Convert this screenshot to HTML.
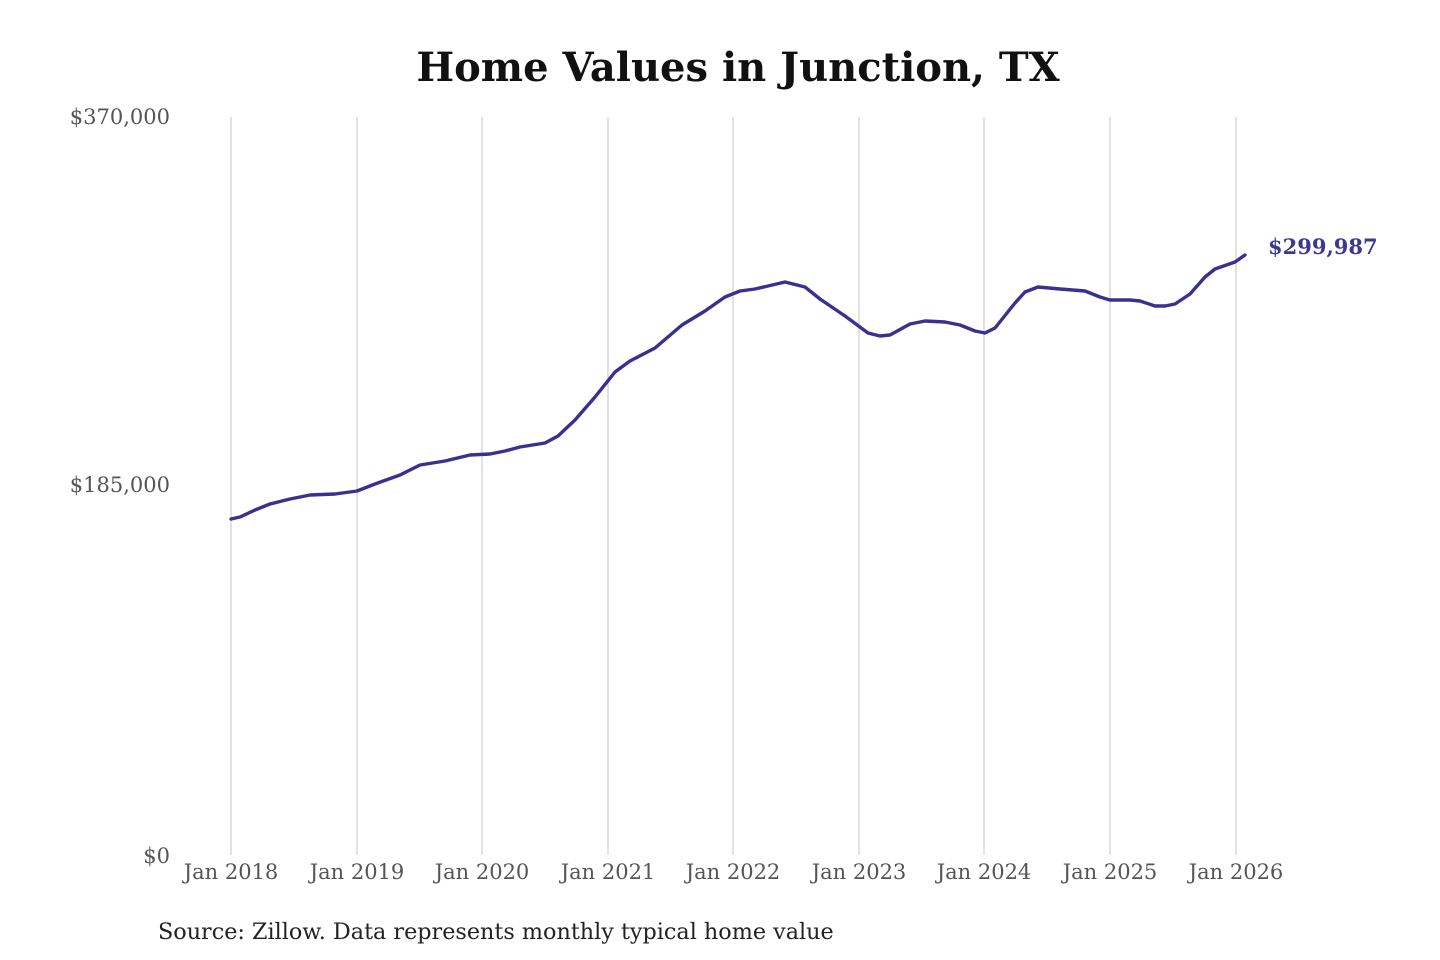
<!DOCTYPE html>
<html><head><meta charset="utf-8"><style>
html,body{margin:0;padding:0;background:#fff;width:1440px;height:960px;overflow:hidden}
</style></head><body>
<svg width="1440" height="960" viewBox="0 0 1440 960" xmlns="http://www.w3.org/2000/svg">
<text x="738" y="81" text-anchor="middle" font-family="DejaVu Serif, Liberation Serif, serif" font-weight="bold" font-size="40" fill="#111">Home Values in Junction, TX</text>
<g stroke="#c4c4c4" stroke-width="1">
<line x1="231" y1="117" x2="231" y2="855"/><line x1="357" y1="117" x2="357" y2="855"/>
<line x1="482" y1="117" x2="482" y2="855"/><line x1="608" y1="117" x2="608" y2="855"/>
<line x1="733" y1="117" x2="733" y2="855"/><line x1="859" y1="117" x2="859" y2="855"/>
<line x1="984" y1="117" x2="984" y2="855"/><line x1="1110" y1="117" x2="1110" y2="855"/>
<line x1="1236" y1="117" x2="1236" y2="855"/>
</g>
<g font-family="DejaVu Serif, Liberation Serif, serif" font-size="21" fill="#555" text-anchor="end">
<text x="170" y="124">$370,000</text><text x="170" y="492">$185,000</text><text x="170" y="863">$0</text>
</g>
<g font-family="DejaVu Serif, Liberation Serif, serif" font-size="21" fill="#555" text-anchor="middle">
<text x="231" y="879">Jan 2018</text><text x="357" y="879">Jan 2019</text><text x="482" y="879">Jan 2020</text>
<text x="608" y="879">Jan 2021</text><text x="733" y="879">Jan 2022</text><text x="859" y="879">Jan 2023</text>
<text x="984" y="879">Jan 2024</text><text x="1110" y="879">Jan 2025</text><text x="1236" y="879">Jan 2026</text>
</g>
<polyline fill="none" stroke="#37318f" stroke-width="3.4" stroke-linejoin="round" stroke-linecap="round" points="231,519 240,517 255,510 270,504 290,499 310,495 335,494 357,491 375,484 400,475 420,465 445,461 470,455 490,454 505,451 520,447 545,443 558,436 575,420 595,397 615,372 630,361 655,348 682,325 705,311 725,297 740,291 755,289 768,286 785,282 805,287 820,299 845,316 868,333 880,336 890,335 910,324 925,321 945,322 960,325 975,331 985,333 995,328 1015,303 1025,292 1038,287 1060,289 1085,291 1100,297 1110,300 1130,300 1140,301 1155,306 1165,306 1175,304 1190,294 1205,277 1215,269 1235,262 1245,255"/>
<text x="1268" y="254" font-family="DejaVu Serif, Liberation Serif, serif" font-weight="bold" font-size="21" fill="#3b3a8f">$299,987</text>
<text x="158" y="939" font-family="DejaVu Serif, Liberation Serif, serif" font-size="22.3" fill="#222">Source: Zillow. Data represents monthly typical home value</text>
</svg>
</body></html>
